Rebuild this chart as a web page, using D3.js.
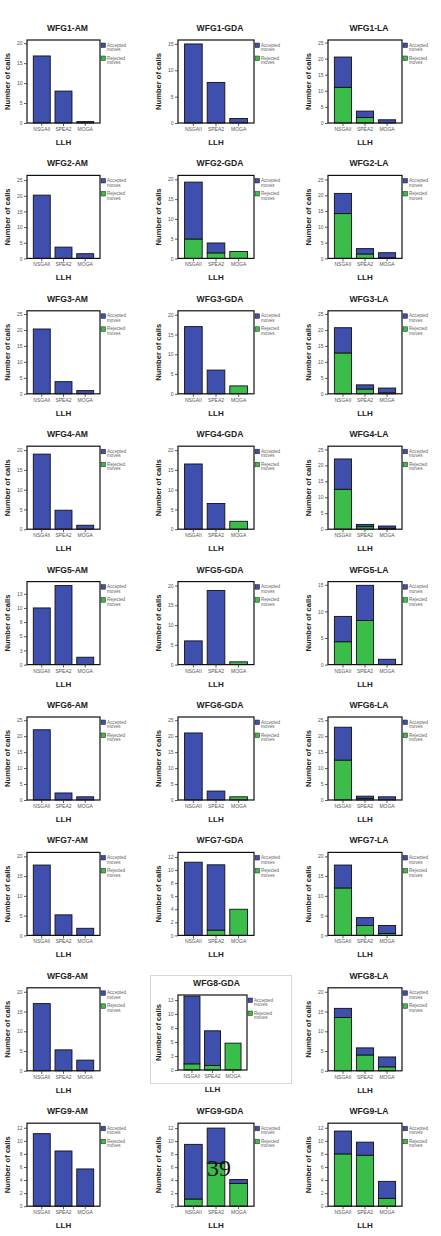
<!DOCTYPE html>
<html><head><meta charset="utf-8">
<script src="https://cdn.jsdelivr.net/npm/d3@7"></script>
<style>body{margin:0;background:#fff}svg{display:block}</style>
</head><body>
<svg id="c" width="441" height="1236"></svg>
<script>
// ---- data ----
const titles = ["WFG1-AM","WFG1-GDA","WFG1-LA","WFG2-AM","WFG2-GDA","WFG2-LA","WFG3-AM","WFG3-GDA","WFG3-LA",
"WFG4-AM","WFG4-GDA","WFG4-LA","WFG5-AM","WFG5-GDA","WFG5-LA","WFG6-AM","WFG6-GDA","WFG6-LA",
"WFG7-AM","WFG7-GDA","WFG7-LA","WFG8-AM","WFG8-GDA","WFG8-LA","WFG9-AM","WFG9-GDA","WFG9-LA"];
const llh = ["NSGAII","SPEA2","MOGA"];
const seriesNames = ["Accepted moves","Rejected moves"];
// total calls per LLH (NSGAII, SPEA2, MOGA)
const totalCalls = [
[16.8,8.0,0.35],[15,7.7,0.85],[20.5,3.7,1.0],
[20.2,3.6,1.5],[19.3,3.9,1.75],[20.6,3.1,1.8],
[20.3,3.8,1.0],[17,6,2],[20.7,2.8,1.8],
[19,4.8,1.0],[16.5,6.5,2],[22,1.5,1.0],
[10,13.95,1.3],[6,18.75,0.7],[9.06,14.9,1.0],
[22,2.2,1.0],[21,2.8,1.0],[22.8,1.2,1.0],
[17.8,5.2,1.8],[11.2,10.8,4],[17.8,4.5,2.5],
[17,5.3,2.7],[13.2,7.0,4.8],[15.8,5.8,3.5],
[11.1,8.45,5.7],[9.5,12,4.1],[11.5,9.8,3.8]];
// rejected moves per LLH
const rejectedMoves = [
[0,0,0],[0,0,0],[11.1,1.7,0],
[0,0,0],[4.9,1.4,1.75],[14.2,1.4,0.2],
[0,0,0],[0,0,2],[12.8,1.5,0.3],
[0,0,0],[0,0,2],[12.5,0.8,0.3],
[0,0,0],[0,0,0.7],[4.3,8.3,0],
[0,0,0],[0,0,1.0],[12.5,0.5,0],
[0,0,0],[0,0.8,4],[12,2.5,0.5],
[0,0,0],[1.1,0.8,4.8],[13.5,4,1.0],
[0,0,0],[1.1,6.6,3.5],[8,7.8,1.2]];
const acceptedMoves = totalCalls.map((r,i)=>r.map((v,j)=>+(v-rejectedMoves[i][j]).toFixed(2)));
// y-axis: tick step, last tick, axis top
const tickStep = [5,5,5, 5,5,5, 5,5,5, 5,5,5, 2.5,5,5, 5,5,5, 5,2,5, 5,2.5,5, 2,2,2];
const tickTop  = [20,15,25, 25,20,25, 25,20,25, 20,20,25, 12.5,20,15, 25,25,25, 20,12,20, 20,12.5,20, 12,12,12];
const axisTop  = [20.8,15.75,25.8, 26.5,21,26.3, 26,21,26, 21,21,26, 14.65,21,15.6, 26,26,26, 21,12.7,21, 21,13.4,21, 12.7,12.75,12.7];

// ---- drawing ----
const svg = d3.select("#c");
svg.append("rect").attr("width",441).attr("height",1236).attr("fill","#fff");
const BLUE = "#3e4fae", GREEN = "#3bbd4a";
const colLeft = [27,178,328], colW = [73,76,74];
const rowStep = 135.4, top0 = 40, boxH = 83;
const sans = "'Liberation Sans', Arial, sans-serif";

// pasted-in panel (WFG8-GDA) has its own faint frame and slightly smaller plot
svg.append("rect").attr("x",150.5).attr("y",975.5).attr("width",141).attr("height",108)
  .attr("fill","#fff").attr("stroke","#d6d6d6").attr("stroke-width",1);

titles.forEach((t,i)=>{
  const r = Math.floor(i/3), c = i%3;
  let x0 = colLeft[c], w = colW[c], y0 = top0 + r*rowStep, h = boxH;
  if (t==="WFG8-GDA") { x0 = 178; w = 69; y0 = 995; h = 75; }
  const g = svg.append("g");
  const y = d3.scaleLinear().domain([0,axisTop[i]]).range([y0+h,y0]);
  const x = d3.scaleBand().domain(llh).range([x0,x0+w]).paddingInner(0.22).paddingOuter(0.29);
  // title
  g.append("text").attr("x",x0+w/2+4).attr("y",y0-9).attr("text-anchor","middle")
    .attr("font-family",sans).attr("font-weight","bold").attr("font-size",8.6).attr("fill","#222").text(t);
  // bars
  const stack = d3.stack().keys([0,1])(llh.map((n,j)=>({0:rejectedMoves[i][j],1:acceptedMoves[i][j],n})));
  const cols = [GREEN,BLUE];
  stack.forEach((s,k)=>{
    g.selectAll(null).data(s.filter(d=>d[1]-d[0]>0)).enter().append("rect")
      .attr("x",d=>x(d.data.n)).attr("width",x.bandwidth())
      .attr("y",d=>y(d[1])).attr("height",d=>Math.max(0.6,y(d[0])-y(d[1])))
      .attr("fill",cols[k]).attr("stroke","#111").attr("stroke-width",0.9);
  });
  // frame
  g.append("rect").attr("x",x0).attr("y",y0).attr("width",w).attr("height",h)
    .attr("fill","none").attr("stroke","#111").attr("stroke-width",1.2);
  // y axis
  const ticks = d3.range(0,tickTop[i]+1e-6,tickStep[i]);
  const ya = g.append("g").attr("transform",`translate(${x0},0)`)
    .call(d3.axisLeft(y).tickValues(ticks).tickSize(3).tickPadding(1.5).tickFormat(v=>(v).toFixed(0)));
  ya.select(".domain").remove();
  ya.selectAll("line").attr("stroke","#333").attr("stroke-width",0.8);
  ya.selectAll("text").attr("font-family",sans).attr("font-size",5).attr("fill","#555");
  // x axis
  const xa = g.append("g").attr("transform",`translate(0,${y0+h})`)
    .call(d3.axisBottom(x).tickSize(3).tickPadding(1.5));
  xa.select(".domain").remove();
  xa.selectAll("line").attr("stroke","#333").attr("stroke-width",0.8);
  xa.selectAll("text").attr("font-family",sans).attr("font-size",5).attr("fill","#555");
  // axis titles
  g.append("text").attr("x",x0+w/2).attr("y",y0+h+22).attr("text-anchor","middle")
    .attr("font-family",sans).attr("font-weight","bold").attr("font-size",8).attr("fill","#222").text("LLH");
  g.append("text").attr("transform",`translate(${x0-17},${y0+h/2}) rotate(-90)`).attr("text-anchor","middle")
    .attr("font-family",sans).attr("font-weight","bold").attr("font-size",7.6).attr("fill","#222").text("Number of calls");
  // legend
  [BLUE,GREEN].forEach((col,k)=>{
    const ly = y0 + 3 + k*13;
    g.append("rect").attr("x",x0+w+1).attr("y",ly).attr("width",4.6).attr("height",4.6)
      .attr("fill",col).attr("stroke","#222").attr("stroke-width",0.5);
    const words = seriesNames[k].split(" ");
    words.forEach((wd,m)=>g.append("text").attr("x",x0+w+7).attr("y",ly+3.5+m*4.6)
      .attr("font-family",sans).attr("font-size",4.6).attr("fill","#666").text(wd));
  });
});
// page number overlay
svg.append("text").attr("x",219).attr("y",1176).attr("text-anchor","middle")
  .attr("font-family","'Liberation Serif','DejaVu Serif',serif").attr("font-size",24).attr("fill","#111").text("39");
</script>
</body></html>
